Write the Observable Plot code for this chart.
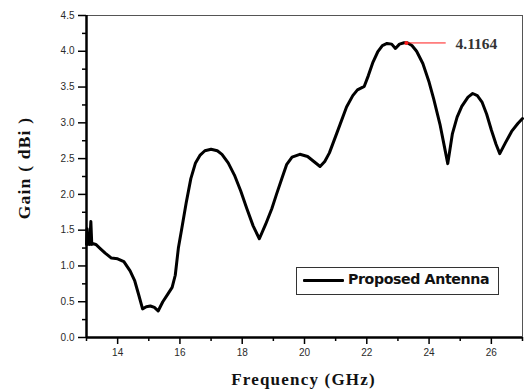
<!DOCTYPE html>
<html>
<head>
<meta charset="utf-8">
<script src="https://cdn.jsdelivr.net/npm/d3@7"></script>
<script src="https://cdn.jsdelivr.net/npm/@observablehq/plot@0.6"></script>
<style>
  html, body { margin: 0; padding: 0; background: #fff; }
  #wrap { position: relative; width: 526px; height: 391px; overflow: hidden; }
  #wrap svg { position: absolute; left: 0; top: 0; }
  .title { position: absolute; font-family: "Liberation Serif", serif; font-weight: bold; font-size: 17px; color: #111; white-space: nowrap; letter-spacing: 1.2px; }
  #xtitle { left: 303.5px; top: 370px; transform: translateX(-50%); }
  #ytitle { left: 24px; top: 168px; transform: translate(-50%, -50%) rotate(-90deg); font-size: 17.5px; }
  #legend { position: absolute; left: 296px; top: 267px; width: 201px; height: 26px; border: 1px solid #333; background: #fff; }
  #legend .swatch { position: absolute; left: 6px; top: 11px; width: 41px; height: 3px; background: #000; border-radius: 1px; }
  #legend .lab { position: absolute; left: 51px; top: 3px; font-family: "DejaVu Sans", sans-serif; font-weight: bold; font-size: 14.2px; color: #111; letter-spacing: -0.4px; white-space: nowrap; }
</style>
</head>
<body>
<div id="wrap"></div>
<script>
// Frequency (GHz)
const freq = [13.00,13.02,13.04,13.07,13.10,13.14,13.17,13.22,13.30,13.45,13.60,13.80,14.00,14.20,14.40,14.55,14.68,14.80,14.92,15.05,15.18,15.30,15.45,15.60,15.75,15.85,15.95,16.05,16.20,16.35,16.50,16.65,16.80,17.00,17.20,17.35,17.55,17.75,17.95,18.15,18.35,18.55,18.75,18.95,19.10,19.27,19.43,19.60,19.85,20.10,20.30,20.50,20.65,20.80,21.05,21.35,21.55,21.70,21.92,22.05,22.20,22.35,22.50,22.65,22.80,22.92,23.05,23.20,23.30,23.45,23.60,23.80,24.00,24.15,24.35,24.50,24.60,24.75,24.90,25.05,25.25,25.40,25.55,25.70,25.85,26.00,26.15,26.27,26.45,26.65,26.85,27.00];
// Gain (dBi)
const gain = [1.30,1.52,1.30,1.45,1.30,1.62,1.30,1.31,1.30,1.24,1.18,1.11,1.10,1.06,0.93,0.79,0.59,0.40,0.43,0.44,0.42,0.37,0.50,0.60,0.70,0.87,1.25,1.50,1.88,2.22,2.44,2.55,2.61,2.63,2.61,2.56,2.44,2.27,2.05,1.80,1.56,1.38,1.58,1.80,2.00,2.22,2.42,2.52,2.56,2.53,2.46,2.39,2.46,2.58,2.87,3.22,3.38,3.46,3.51,3.66,3.85,3.99,4.08,4.11,4.10,4.04,4.10,4.12,4.12,4.08,4.00,3.83,3.57,3.33,2.98,2.65,2.43,2.85,3.08,3.23,3.36,3.41,3.38,3.29,3.12,2.90,2.70,2.57,2.72,2.88,2.99,3.06];

const xMajorTicks = [14, 16, 18, 20, 22, 24, 26];
const xMinorTicks = [13, 15, 17, 19, 21, 23, 25, 27];
const yMajorTicks = [0, 0.5, 1.0, 1.5, 2.0, 2.5, 3.0, 3.5, 4.0, 4.5];
const yMinorTicks = [0.25, 0.75, 1.25, 1.75, 2.25, 2.75, 3.25, 3.75, 4.25];

// Peak annotation
const peakFreq = [23.27];
const peakGain = [4.1164];
const peakLabel = ["4.1164"];
const peakLeaderEnd = [24.55];
const peakLabelX = [24.85];

const seriesName = "Proposed Antenna";
const xDomain = [13, 27];
const yDomain = [0, 4.5];

const data = freq.map((f, i) => ({f, g: gain[i]}));
const peak = peakFreq.map((f, i) => ({f, g: peakGain[i], end: peakLeaderEnd[i], lx: peakLabelX[i], label: peakLabel[i]}));

const chart = Plot.plot({
  width: 526,
  height: 391,
  marginLeft: 86,
  marginRight: 4,
  marginTop: 15,
  marginBottom: 54,
  style: {fontFamily: "'Liberation Sans', Arial, sans-serif", fontSize: "10px", color: "#222", background: "#fff", overflow: "visible"},
  x: {domain: xDomain},
  y: {domain: yDomain},
  marks: [
    Plot.axisX({ticks: xMinorTicks, tickSize: 4, tickFormat: () => "", label: null, stroke: "#000", strokeWidth: 1.5}),
    Plot.axisX({ticks: xMajorTicks, tickSize: 7, tickPadding: 4, tickFormat: d => String(d), label: null, stroke: "#000", strokeWidth: 1.5, fill: "#2a2a2a"}),
    Plot.axisY({ticks: yMinorTicks, tickSize: 4, tickFormat: () => "", label: null, stroke: "#000", strokeWidth: 1.5}),
    Plot.axisY({ticks: yMajorTicks, tickSize: 8, tickPadding: 4, tickFormat: d => d.toFixed(1), label: null, stroke: "#000", strokeWidth: 1.5, fill: "#2a2a2a"}),
    Plot.ruleY([yDomain[1]], {stroke: "#555", strokeWidth: 1}),
    Plot.ruleX([xDomain[1]], {stroke: "#555", strokeWidth: 1}),
    Plot.line(data, {x: "f", y: "g", stroke: "#000", strokeWidth: 3, strokeLinejoin: "round", strokeLinecap: "round"}),
    Plot.ruleY(peak, {y: "g", x1: "f", x2: "end", stroke: "#ff1a1a", strokeWidth: 1}),
    Plot.dot(peak, {x: "f", y: "g", r: 2, fill: "#ff1a1a", stroke: null}),
    Plot.text(peak, {x: "lx", y: "g", text: "label", textAnchor: "start", fontFamily: "'Liberation Serif', serif", fontWeight: "bold", fontSize: 15.5, fill: "#333", dy: 1}),
    Plot.ruleX([xDomain[0]], {stroke: "#000", strokeWidth: 2.5}),
    Plot.ruleY([yDomain[0]], {stroke: "#000", strokeWidth: 2.5})
  ]
});

const wrap = document.getElementById("wrap");
wrap.appendChild(chart);

const xt = document.createElement("div");
xt.id = "xtitle"; xt.className = "title"; xt.textContent = "Frequency (GHz)";
wrap.appendChild(xt);
const yt = document.createElement("div");
yt.id = "ytitle"; yt.className = "title"; yt.textContent = "Gain ( dBi )";
wrap.appendChild(yt);

const lg = document.createElement("div");
lg.id = "legend";
lg.innerHTML = '<div class="swatch"></div><div class="lab"></div>';
lg.querySelector(".lab").textContent = seriesName;
wrap.appendChild(lg);
</script>
</body>
</html>
